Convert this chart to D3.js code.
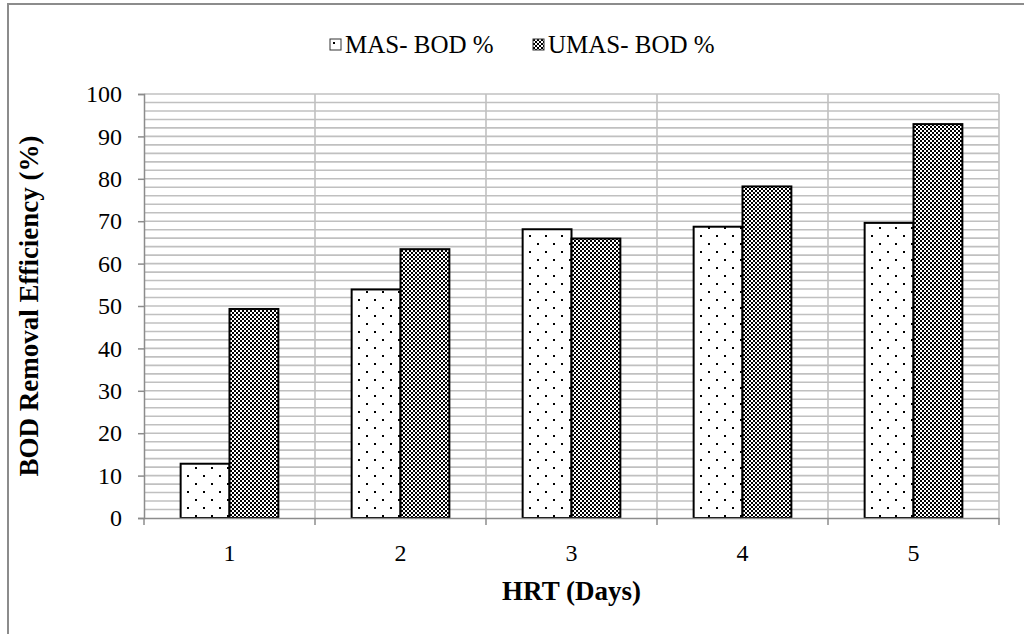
<html>
<head>
  <style>
    body { margin: 0; background: white; font-family: "Liberation Serif", "Times New Roman", serif; }
  </style>
</head>
<body>
  <svg id="chart"></svg>
  <script src="https://cdn.jsdelivr.net/npm/d3@7"></script>
  <script>
    // data
    var days = ["1", "2", "3", "4", "5"];
    var seriesNames = ["MAS- BOD %", "UMAS- BOD %"];
    var masValues = [12.8, 53.9, 68.1, 68.7, 69.6];
    var umasValues = [49.3, 63.4, 65.9, 78.2, 92.9];
    var yTicks = [0, 10, 20, 30, 40, 50, 60, 70, 80, 90, 100];

    var width = 1024, height = 634;
    var plot = { left: 144, right: 999, top: 94, bottom: 518 };

    var svg = d3.select("#chart").attr("width", width).attr("height", height);

    // patterns
    var defs = svg.append("defs");
    var dots = defs.append("pattern").attr("id", "dots")
      .attr("patternUnits", "userSpaceOnUse").attr("width", 16).attr("height", 16);
    dots.append("rect").attr("width", 16).attr("height", 16).attr("fill", "white");
    dots.append("rect").attr("x", 3).attr("y", 3).attr("width", 2).attr("height", 2).attr("fill", "black");
    dots.append("rect").attr("x", 11).attr("y", 11).attr("width", 2).attr("height", 2).attr("fill", "black");

    var checks = defs.append("pattern").attr("id", "checks")
      .attr("patternUnits", "userSpaceOnUse").attr("width", 4).attr("height", 4);
    checks.append("rect").attr("width", 4).attr("height", 4).attr("fill", "white");
    checks.append("rect").attr("width", 2).attr("height", 2).attr("fill", "black");
    checks.append("rect").attr("x", 2).attr("y", 2).attr("width", 2).attr("height", 2).attr("fill", "black");

    // outer frame
    svg.append("rect")
      .attr("x", 8).attr("y", 4).attr("width", 1040).attr("height", 660)
      .attr("fill", "none").attr("stroke", "#8c8c8c").attr("stroke-width", 2);

    var x0 = d3.scaleBand().domain(days).range([plot.left, plot.right]);
    var x1 = d3.scaleBand().domain(seriesNames).range([0, x0.bandwidth()]).paddingOuter(0.75).paddingInner(0);
    var y = d3.scaleLinear().domain([0, 100]).range([plot.bottom, plot.top]);

    // gridlines every 2
    var grid = svg.append("g");
    grid.selectAll("line.h").data(d3.range(2, 101, 2)).join("line")
      .attr("x1", plot.left).attr("x2", plot.right)
      .attr("y1", d => y(d)).attr("y2", d => y(d))
      .attr("stroke", "#c0c0c0").attr("stroke-width", 1.6);
    var bounds = days.map(d => x0(d)).concat([plot.right]);
    grid.selectAll("line.v").data(bounds.slice(1)).join("line")
      .attr("x1", d => d).attr("x2", d => d)
      .attr("y1", plot.top).attr("y2", plot.bottom)
      .attr("stroke", "#c0c0c0").attr("stroke-width", 1.6);

    // bars
    var rows = days.map((d, i) => ({ day: d, values: [
      { name: seriesNames[0], v: masValues[i], fill: "url(#dots)" },
      { name: seriesNames[1], v: umasValues[i], fill: "url(#checks)" }
    ]}));
    var groups = svg.append("g").selectAll("g").data(rows).join("g")
      .attr("transform", d => "translate(" + x0(d.day) + ",0)");
    groups.selectAll("rect").data(d => d.values).join("rect")
      .attr("x", d => x1(d.name))
      .attr("width", x1.bandwidth())
      .attr("y", d => y(d.v))
      .attr("height", d => y(0) - y(d.v))
      .attr("fill", d => d.fill)
      .attr("stroke", "black").attr("stroke-width", 2);

    // y axis
    var yAxis = svg.append("g").attr("transform", "translate(" + plot.left + ",0)")
      .call(d3.axisLeft(y).tickValues(yTicks).tickSize(6).tickPadding(16));
    yAxis.select(".domain").attr("stroke", "#8c8c8c").attr("stroke-width", 1.5);
    yAxis.selectAll(".tick line").attr("stroke", "#8c8c8c").attr("stroke-width", 1.5);
    yAxis.selectAll("text").attr("font-family", "Liberation Serif").attr("font-size", 24).attr("fill", "black");

    // x axis
    var xAxis = svg.append("g").attr("transform", "translate(0," + plot.bottom + ")")
      .call(d3.axisBottom(x0).tickSize(0).tickPadding(26));
    xAxis.select(".domain").attr("stroke", "#8c8c8c").attr("stroke-width", 1.5);
    xAxis.selectAll("text").attr("font-family", "Liberation Serif").attr("font-size", 24).attr("fill", "black");
    xAxis.selectAll("line.sep").data(bounds).join("line").attr("class", "sep")
      .attr("x1", d => d).attr("x2", d => d).attr("y1", 0).attr("y2", 7)
      .attr("stroke", "#8c8c8c").attr("stroke-width", 1.5);

    // axis titles
    svg.append("text")
      .attr("transform", "translate(38," + ((plot.top + plot.bottom) / 2) + ") rotate(-90)")
      .attr("text-anchor", "middle")
      .attr("font-family", "Liberation Serif").attr("font-weight", "bold").attr("font-size", 27)
      .text("BOD Removal Efficiency (%)");
    svg.append("text")
      .attr("x", (plot.left + plot.right) / 2).attr("y", 600)
      .attr("text-anchor", "middle")
      .attr("font-family", "Liberation Serif").attr("font-weight", "bold").attr("font-size", 27)
      .text("HRT (Days)");

    // legend
    var legendItems = [
      { name: seriesNames[0], fill: "url(#dots)", x: 330 },
      { name: seriesNames[1], fill: "url(#checks)", x: 533 }
    ];
    var legend = svg.append("g").selectAll("g").data(legendItems).join("g")
      .attr("transform", d => "translate(" + d.x + ",39)");
    legend.append("rect").attr("width", 11).attr("height", 11)
      .attr("fill", d => d.fill).attr("stroke", "#333").attr("stroke-width", 1);
    legend.append("text").attr("x", 15).attr("y", 14)
      .attr("font-family", "Liberation Serif").attr("font-size", 25)
      .text(d => d.name);
  </script>
</body>
</html>
